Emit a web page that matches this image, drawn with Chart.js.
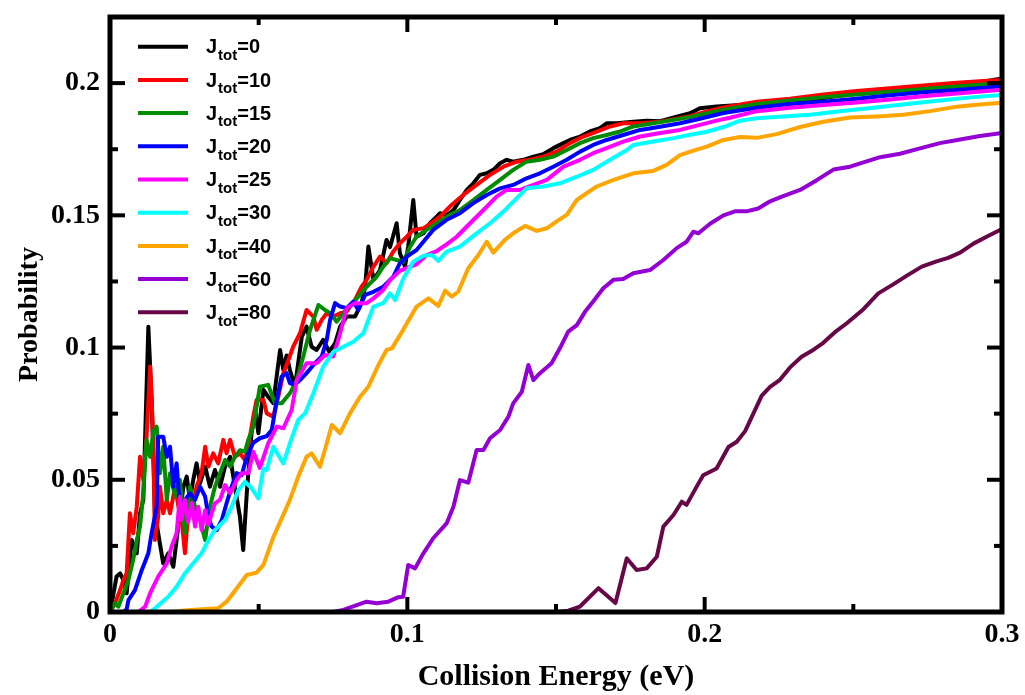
<!DOCTYPE html>
<html><head><meta charset="utf-8">
<script src="https://cdn.jsdelivr.net/npm/chart.js@4"></script>
<style>html,body{margin:0;padding:0;background:#fff;} canvas{display:block;}</style>
</head><body>
<canvas id="c" width="1025" height="695"></canvas>
<script>
// ---- data ----
const seriesLabels = ['0','10','15','20','25','30','40','60','80'];
const seriesColors = ['#000000','#ff0000','#008b00','#0000ff','#ff00ff','#00ffff','#ffa500','#9400d3','#670748'];
const xTickValues = [0,0.1,0.2,0.3];
const xMinorValues = [0.05,0.15,0.25];
const yTickValues = [0,0.05,0.1,0.15,0.2];
const yMinorValues = [0.025,0.075,0.125,0.175];
const xTitle = 'Collision Energy (eV)';
const yTitle = 'Probability';

const j0 = [[0,0],[0.0006,0.0033],[0.0022,0.0134],[0.0034,0.0146],[0.0045,0.0121],[0.0056,0.0071],[0.0073,0.0272],[0.009,0.0222],[0.0101,0.0373],[0.0112,0.0424],[0.0129,0.1079],[0.014,0.0802],[0.0151,0.0373],[0.0162,0.0298],[0.0179,0.0184],[0.0196,0.0222],[0.0213,0.0171],[0.0224,0.0272],[0.0235,0.0373],[0.0247,0.0474],[0.0258,0.0512],[0.0269,0.0424],[0.028,0.05],[0.0291,0.0562],[0.0303,0.0487],[0.032,0.055],[0.0336,0.0474],[0.0353,0.0537],[0.037,0.0474],[0.0387,0.055],[0.0404,0.0587],[0.042,0.0474],[0.0437,0.036],[0.0448,0.0234],[0.046,0.0449],[0.0476,0.0676],[0.0488,0.0764],[0.0499,0.0676],[0.0516,0.084],[0.0532,0.0814],[0.0549,0.079],[0.0572,0.0991],[0.0583,0.0915],[0.0594,0.097],[0.0605,0.0915],[0.0622,0.0852],[0.0645,0.1041],[0.0661,0.1079],[0.0678,0.1003],[0.0695,0.0991],[0.0717,0.1029],[0.0737,0.0985],[0.0757,0.1016],[0.0774,0.1079],[0.0796,0.1117],[0.0824,0.1117],[0.0846,0.1168],[0.0858,0.123],[0.0869,0.1382],[0.0886,0.1256],[0.0908,0.1293],[0.093,0.1407],[0.0942,0.138],[0.0964,0.147],[0.0975,0.1357],[0.0992,0.1306],[0.1003,0.1382],[0.102,0.1558],[0.1031,0.1419],[0.1054,0.1432],[0.1076,0.147],[0.1099,0.1495],[0.111,0.1508],[0.1132,0.15],[0.1155,0.152],[0.1177,0.1558],[0.12,0.1596],[0.1222,0.1621],[0.1244,0.1653],[0.1267,0.1659],[0.1289,0.1672],[0.1312,0.1697],[0.1334,0.171],[0.1356,0.1703],[0.139,0.171],[0.1424,0.1722],[0.1457,0.1731],[0.1491,0.1754],[0.1525,0.1773],[0.1547,0.1785],[0.1581,0.1798],[0.1614,0.1817],[0.1648,0.183],[0.167,0.1848],[0.1704,0.1848],[0.176,0.1854],[0.1805,0.1858],[0.185,0.1856],[0.1906,0.1873],[0.1951,0.1886],[0.1984,0.1905],[0.204,0.1912],[0.2119,0.1917],[0.2197,0.1921],[0.2264,0.1927],[0.2343,0.1934],[0.2422,0.1947],[0.2511,0.1961],[0.2623,0.1974],[0.2735,0.1983],[0.2848,0.1994],[0.2937,0.2005],[0.3,0.2018]];

const j10 = [[0,0],[0.0017,0.0033],[0.0034,0.0083],[0.0045,0.0121],[0.0056,0.0146],[0.0067,0.0373],[0.0078,0.0298],[0.009,0.0398],[0.0101,0.0587],[0.0112,0.0499],[0.0123,0.0663],[0.0135,0.0928],[0.0146,0.0651],[0.0151,0.0272],[0.0162,0.036],[0.0168,0.0474],[0.0179,0.0373],[0.0191,0.0424],[0.0202,0.0373],[0.0219,0.0474],[0.023,0.0398],[0.0241,0.0348],[0.0252,0.0222],[0.0263,0.0373],[0.028,0.0411],[0.0291,0.0474],[0.0308,0.0525],[0.032,0.0625],[0.0331,0.055],[0.0347,0.06],[0.0364,0.0562],[0.0381,0.0651],[0.0392,0.06],[0.0404,0.0651],[0.042,0.0587],[0.0437,0.06],[0.0454,0.0575],[0.0465,0.0625],[0.0482,0.0739],[0.0493,0.0802],[0.0516,0.0802],[0.0527,0.0751],[0.0549,0.0739],[0.0566,0.0814],[0.0583,0.0903],[0.06,0.0953],[0.0616,0.1003],[0.0639,0.1054],[0.0661,0.1142],[0.0684,0.1117],[0.0695,0.1067],[0.0712,0.1104],[0.0729,0.113],[0.0751,0.1117],[0.0774,0.113],[0.0796,0.1136],[0.0824,0.118],[0.0846,0.123],[0.0863,0.1256],[0.0886,0.1306],[0.0908,0.1344],[0.093,0.1319],[0.0953,0.1363],[0.0975,0.1394],[0.0998,0.1419],[0.102,0.1445],[0.1054,0.1451],[0.1087,0.1476],[0.111,0.1495],[0.1143,0.1533],[0.1188,0.1577],[0.1233,0.1615],[0.1278,0.1653],[0.1323,0.1684],[0.1368,0.1703],[0.1413,0.171],[0.1457,0.1722],[0.1502,0.1741],[0.1547,0.1773],[0.1592,0.1798],[0.1637,0.1817],[0.1682,0.1836],[0.1726,0.1848],[0.1783,0.1848],[0.185,0.1854],[0.1917,0.1867],[0.1951,0.1875],[0.2007,0.1893],[0.2063,0.1908],[0.2175,0.193],[0.2287,0.1941],[0.2399,0.1957],[0.2511,0.197],[0.2623,0.1981],[0.2735,0.1991],[0.2848,0.2001],[0.2937,0.2008],[0.3,0.2012]];

const j15 = [[0,0],[0.0017,0.0033],[0.0028,0.002],[0.0045,0.0071],[0.0062,0.0121],[0.0078,0.0197],[0.009,0.0272],[0.0101,0.0323],[0.0112,0.0449],[0.0123,0.0651],[0.0135,0.0587],[0.0146,0.0682],[0.0157,0.0701],[0.0168,0.0525],[0.0179,0.0625],[0.0191,0.0424],[0.0202,0.0525],[0.0219,0.0436],[0.0235,0.0499],[0.0252,0.0298],[0.0269,0.0474],[0.0286,0.0398],[0.0303,0.0348],[0.032,0.0272],[0.0336,0.0398],[0.0353,0.0474],[0.037,0.0525],[0.0387,0.0575],[0.0404,0.055],[0.042,0.0587],[0.0437,0.0612],[0.0454,0.0606],[0.0465,0.0651],[0.0482,0.0701],[0.0504,0.0852],[0.0532,0.0859],[0.0555,0.0789],[0.0577,0.0789],[0.0605,0.0827],[0.0628,0.0877],[0.065,0.0966],[0.0673,0.1067],[0.0701,0.1161],[0.0723,0.1142],[0.074,0.113],[0.0762,0.1098],[0.0785,0.113],[0.0807,0.1155],[0.083,0.1186],[0.0863,0.123],[0.0897,0.1268],[0.0919,0.1306],[0.0942,0.1338],[0.0964,0.1331],[0.0986,0.1325],[0.1009,0.138],[0.1031,0.142],[0.1065,0.1445],[0.1099,0.147],[0.1132,0.1495],[0.1177,0.152],[0.1222,0.1558],[0.1267,0.1596],[0.1312,0.1634],[0.1356,0.1672],[0.1401,0.1703],[0.1446,0.171],[0.1491,0.1722],[0.1536,0.1747],[0.1581,0.1773],[0.1625,0.1792],[0.167,0.1804],[0.1715,0.1817],[0.176,0.1836],[0.1827,0.1848],[0.1895,0.1861],[0.1951,0.1872],[0.2063,0.1899],[0.2175,0.1921],[0.2287,0.1934],[0.2399,0.1947],[0.2511,0.1957],[0.2623,0.1967],[0.2735,0.1978],[0.2848,0.1987],[0.2937,0.1995],[0.3,0.2]];

const j20 = [[0,0],[0.0045,0],[0.0056,0.001],[0.0062,0.0045],[0.0084,0.0083],[0.0107,0.0159],[0.0129,0.0222],[0.014,0.0298],[0.0157,0.0398],[0.0162,0.0663],[0.0179,0.0663],[0.0191,0.0587],[0.0202,0.0625],[0.0213,0.0474],[0.0224,0.0562],[0.0235,0.0398],[0.0252,0.0424],[0.0269,0.0449],[0.0286,0.0424],[0.0303,0.0474],[0.032,0.0436],[0.0331,0.036],[0.0342,0.0323],[0.0359,0.031],[0.0376,0.0348],[0.0392,0.0411],[0.0409,0.0474],[0.0426,0.0525],[0.0443,0.0518],[0.046,0.0587],[0.0482,0.064],[0.0504,0.0657],[0.0527,0.0665],[0.0544,0.0688],[0.0561,0.0802],[0.0577,0.089],[0.0594,0.0903],[0.0605,0.0865],[0.0622,0.086],[0.0639,0.0877],[0.0661,0.0903],[0.0689,0.0941],[0.0712,0.0966],[0.0729,0.1029],[0.074,0.1104],[0.0757,0.1168],[0.0774,0.1155],[0.0796,0.1149],[0.0818,0.1174],[0.0835,0.1142],[0.0858,0.1199],[0.0886,0.1211],[0.0919,0.123],[0.0953,0.1268],[0.0975,0.1319],[0.0998,0.1344],[0.1031,0.1369],[0.1054,0.14],[0.1087,0.1445],[0.1132,0.1483],[0.1177,0.1508],[0.1222,0.1546],[0.1267,0.1577],[0.1312,0.1602],[0.1356,0.1615],[0.1401,0.164],[0.1446,0.1659],[0.1491,0.1684],[0.1536,0.171],[0.1581,0.1741],[0.1625,0.1766],[0.167,0.1785],[0.1715,0.18],[0.1783,0.1823],[0.185,0.1835],[0.1917,0.1848],[0.1984,0.1865],[0.2063,0.1887],[0.2175,0.1907],[0.2287,0.1921],[0.2399,0.193],[0.2511,0.1941],[0.2623,0.1954],[0.2735,0.1965],[0.2848,0.1974],[0.3,0.1988]];

const j25 = [[0,0],[0.0095,0],[0.0118,0.002],[0.0135,0.0071],[0.0162,0.0134],[0.0191,0.0184],[0.0207,0.0247],[0.0224,0.0298],[0.0235,0.0436],[0.0241,0.035],[0.0252,0.0424],[0.0263,0.034],[0.0275,0.0411],[0.0286,0.0323],[0.0297,0.0398],[0.0308,0.031],[0.032,0.0385],[0.0331,0.033],[0.0342,0.0373],[0.0353,0.0411],[0.037,0.0424],[0.0387,0.048],[0.0404,0.0449],[0.0426,0.0499],[0.0443,0.0525],[0.0465,0.0525],[0.0482,0.0606],[0.0504,0.0545],[0.0532,0.0638],[0.0561,0.0701],[0.0583,0.0695],[0.0611,0.0764],[0.0628,0.0877],[0.0661,0.0941],[0.0695,0.0941],[0.0723,0.0972],[0.0751,0.0966],[0.0774,0.1054],[0.0796,0.1149],[0.0824,0.1168],[0.0863,0.1168],[0.0886,0.1186],[0.0919,0.1218],[0.0942,0.1256],[0.0975,0.129],[0.1009,0.1306],[0.1031,0.1315],[0.1065,0.135],[0.1099,0.1365],[0.1132,0.139],[0.1166,0.1419],[0.1211,0.147],[0.1256,0.152],[0.13,0.1571],[0.1334,0.1596],[0.1379,0.1596],[0.1424,0.1615],[0.1469,0.1634],[0.1525,0.1684],[0.1581,0.171],[0.1625,0.1735],[0.167,0.1754],[0.1726,0.1779],[0.1783,0.1798],[0.185,0.1811],[0.1917,0.1823],[0.1984,0.1842],[0.204,0.1858],[0.2085,0.1869],[0.2175,0.1894],[0.2287,0.1907],[0.2399,0.1917],[0.2511,0.1927],[0.2623,0.1938],[0.2735,0.195],[0.2848,0.1961],[0.3,0.1975]];

const j30 = [[0,0],[0.0135,0],[0.0151,0.0014],[0.0196,0.0058],[0.0224,0.0096],[0.0252,0.0146],[0.0275,0.0178],[0.0308,0.0222],[0.0331,0.0272],[0.0353,0.031],[0.0387,0.0348],[0.0409,0.0398],[0.0432,0.0461],[0.0454,0.0493],[0.0476,0.0468],[0.0499,0.043],[0.0516,0.0543],[0.0527,0.0537],[0.0549,0.0625],[0.0583,0.0562],[0.0605,0.0638],[0.0633,0.0726],[0.0656,0.0751],[0.0684,0.0827],[0.0717,0.0928],[0.0751,0.0984],[0.0785,0.1003],[0.0818,0.1022],[0.0852,0.1054],[0.0886,0.1155],[0.0919,0.1168],[0.0942,0.1205],[0.0959,0.118],[0.0986,0.126],[0.102,0.1325],[0.1054,0.1347],[0.1082,0.135],[0.1104,0.1328],[0.1132,0.1363],[0.1177,0.1382],[0.1233,0.1432],[0.1278,0.147],[0.1323,0.1514],[0.1368,0.1565],[0.1401,0.1602],[0.1457,0.1609],[0.1513,0.1621],[0.157,0.1646],[0.1625,0.1672],[0.1682,0.171],[0.1738,0.1747],[0.176,0.1766],[0.1827,0.1779],[0.1895,0.1792],[0.1951,0.1805],[0.2007,0.1816],[0.2063,0.1834],[0.2119,0.1858],[0.2175,0.1867],[0.2287,0.1876],[0.2354,0.188],[0.2455,0.1894],[0.2567,0.1907],[0.268,0.1921],[0.2791,0.1934],[0.2904,0.1947],[0.3,0.1955]];

const j40 = [[0,0],[0.02,0],[0.027,0.0008],[0.0364,0.0014],[0.0392,0.0039],[0.046,0.014],[0.0493,0.0149],[0.0516,0.0178],[0.0549,0.0282],[0.0605,0.0424],[0.0633,0.0512],[0.0661,0.0587],[0.0678,0.06],[0.0706,0.0549],[0.0729,0.0638],[0.0746,0.0707],[0.0774,0.0676],[0.0807,0.0751],[0.0841,0.0814],[0.0869,0.0852],[0.0903,0.0935],[0.093,0.0991],[0.0948,0.0997],[0.0986,0.1067],[0.1031,0.1155],[0.1071,0.1186],[0.1104,0.1157],[0.1127,0.1215],[0.1149,0.1193],[0.1171,0.1211],[0.1205,0.13],[0.1239,0.135],[0.1267,0.14],[0.1289,0.1359],[0.1328,0.1407],[0.1356,0.1432],[0.1396,0.146],[0.1435,0.1441],[0.1469,0.1451],[0.1502,0.1477],[0.1536,0.1502],[0.157,0.1558],[0.1603,0.1584],[0.1637,0.1609],[0.1693,0.1634],[0.176,0.1659],[0.1827,0.1668],[0.1872,0.1691],[0.1917,0.1728],[0.1962,0.1745],[0.2007,0.176],[0.2063,0.1785],[0.2119,0.1796],[0.2175,0.1793],[0.2242,0.1807],[0.2321,0.1834],[0.2399,0.1854],[0.2489,0.187],[0.2579,0.1874],[0.2668,0.188],[0.2758,0.1894],[0.2848,0.1911],[0.2915,0.1918],[0.3,0.1926]];

const j60 = [[0,0],[0.075,0],[0.0785,0.0008],[0.0863,0.0039],[0.0897,0.0033],[0.0936,0.0039],[0.097,0.0056],[0.0986,0.0058],[0.1003,0.0178],[0.1026,0.0165],[0.1054,0.0222],[0.1087,0.0279],[0.1132,0.0335],[0.1155,0.0398],[0.1177,0.0499],[0.1205,0.0489],[0.1233,0.0613],[0.1256,0.0613],[0.1278,0.0657],[0.1312,0.0688],[0.134,0.0739],[0.1356,0.0789],[0.1385,0.0833],[0.1407,0.0934],[0.1424,0.0877],[0.1446,0.0903],[0.1485,0.0941],[0.1513,0.0997],[0.1541,0.106],[0.157,0.1085],[0.1598,0.1136],[0.1625,0.1174],[0.1659,0.1224],[0.1693,0.1256],[0.1726,0.1259],[0.176,0.1281],[0.1816,0.1293],[0.1861,0.1331],[0.1906,0.1376],[0.1939,0.14],[0.1962,0.1438],[0.1979,0.1432],[0.2018,0.1468],[0.2063,0.15],[0.2102,0.1515],[0.2141,0.1515],[0.218,0.1526],[0.222,0.1553],[0.2264,0.1573],[0.2321,0.1596],[0.2377,0.1633],[0.2433,0.1673],[0.2489,0.1684],[0.2534,0.17],[0.259,0.172],[0.2657,0.1733],[0.2724,0.1753],[0.2791,0.1773],[0.2859,0.1787],[0.2926,0.18],[0.3,0.1811]];

const j80 = [[0,0],[0.15,0],[0.1541,0.0005],[0.158,0.002],[0.1643,0.009],[0.17,0.0034],[0.1738,0.0203],[0.1771,0.0159],[0.1805,0.0165],[0.1839,0.0209],[0.1861,0.0323],[0.1895,0.0367],[0.1923,0.0417],[0.1939,0.0405],[0.1973,0.0474],[0.1995,0.0517],[0.204,0.0543],[0.208,0.0624],[0.2108,0.0644],[0.2136,0.0684],[0.2164,0.0751],[0.2192,0.0818],[0.222,0.0851],[0.2253,0.0878],[0.2287,0.0925],[0.2326,0.0965],[0.2365,0.0991],[0.2399,0.1018],[0.2438,0.1058],[0.2478,0.1092],[0.2534,0.1145],[0.2584,0.1205],[0.2634,0.1239],[0.268,0.1272],[0.273,0.1306],[0.278,0.1326],[0.2819,0.1339],[0.2859,0.1359],[0.2904,0.1393],[0.2948,0.1419],[0.3,0.1448]];

const seriesData = [j0,j10,j15,j20,j25,j30,j40,j60,j80];

// ---- plugins ----
const frameTicks = {
  id: 'frameTicks',
  afterDatasetsDraw(chart) {
    const {ctx, chartArea: a, scales: {x, y}} = chart;
    ctx.save();
    ctx.strokeStyle = '#000';
    ctx.lineCap = 'butt';
    const seg = (x1, y1, x2, y2) => { ctx.beginPath(); ctx.moveTo(x1, y1); ctx.lineTo(x2, y2); ctx.stroke(); };
    ctx.lineWidth = 4;
    const MAJ = 15, MIN = 8;
    xTickValues.forEach(v => { const p = x.getPixelForValue(v); seg(p, a.bottom, p, a.bottom - MAJ); seg(p, a.top, p, a.top + MAJ); });
    xMinorValues.forEach(v => { const p = x.getPixelForValue(v); seg(p, a.bottom, p, a.bottom - MIN); seg(p, a.top, p, a.top + MIN); });
    yTickValues.forEach(v => { const p = y.getPixelForValue(v); seg(a.left, p, a.left + MAJ, p); seg(a.right, p, a.right - MAJ, p); });
    yMinorValues.forEach(v => { const p = y.getPixelForValue(v); seg(a.left, p, a.left + MIN, p); seg(a.right, p, a.right - MIN, p); });
    ctx.lineWidth = 5;
    ctx.lineJoin = 'miter';
    ctx.strokeRect(a.left, a.top, a.right - a.left, a.bottom - a.top);
    ctx.restore();
  }
};

const subLegend = {
  id: 'subLegend',
  afterDraw(chart) {
    const ctx = chart.ctx;
    ctx.save();
    const x0 = 138, x1 = 188, y0 = 46.7, dy = 33.2, tx = 206;
    const big = 'bold 20px "Liberation Sans", Arial, sans-serif';
    const small = 'bold 15px "Liberation Sans", Arial, sans-serif';
    chart.data.datasets.forEach((ds, i) => {
      const yy = y0 + dy * i;
      ctx.strokeStyle = ds.borderColor;
      ctx.lineWidth = 4;
      ctx.lineCap = 'butt';
      ctx.beginPath(); ctx.moveTo(x0, yy); ctx.lineTo(x1, yy); ctx.stroke();
      ctx.fillStyle = '#000';
      ctx.textBaseline = 'alphabetic';
      ctx.textAlign = 'left';
      ctx.font = big;
      ctx.fillText('J', tx, yy + 6.7);
      let cx = tx + ctx.measureText('J').width + 1;
      ctx.font = small;
      ctx.fillText('tot', cx, yy + 13.3);
      cx += ctx.measureText('tot').width;
      ctx.font = big;
      ctx.fillText('=' + seriesLabels[i], cx, yy + 6.7);
    });
    ctx.restore();
  }
};

const fmt = v => String(+Number(v).toFixed(3));
const serif = 'Liberation Serif, "Times New Roman", serif';

new Chart(document.getElementById('c'), {
  type: 'scatter',
  data: {
    datasets: seriesData.map((d, i) => ({
      label: 'Jtot=' + seriesLabels[i],
      data: d.map(p => ({x: p[0], y: p[1]})),
      borderColor: seriesColors[i],
      backgroundColor: seriesColors[i],
      borderWidth: 4,
      showLine: true,
      pointRadius: 0,
      pointHoverRadius: 0,
      tension: 0,
      borderJoinStyle: 'round',
      borderCapStyle: 'round',
      order: seriesData.length - i
    }))
  },
  options: {
    responsive: false,
    animation: false,
    events: [],
    layout: {padding: {left: 0, right: 23, top: 17, bottom: 0}},
    plugins: {legend: {display: false}, tooltip: {enabled: false}},
    scales: {
      x: {
        type: 'linear', min: 0, max: 0.3,
        afterBuildTicks: s => { s.ticks = xTickValues.map(v => ({value: v})); },
        afterFit: s => { s.height = 83; s.paddingLeft = 0; s.paddingRight = 0; },
        grid: {display: false, drawTicks: false},
        border: {display: false},
        ticks: {color: '#000', padding: 6, maxRotation: 0, autoSkip: false, font: {family: serif, weight: 'bold', size: 28}, callback: v => fmt(v)},
        title: {display: true, text: xTitle, color: '#000', font: {family: serif, weight: 'bold', size: 30}, padding: {top: 0, bottom: 0}}
      },
      y: {
        type: 'linear', min: 0, max: 0.225,
        afterBuildTicks: s => { s.ticks = yTickValues.map(v => ({value: v})); },
        afterFit: s => { s.width = 110; s.paddingTop = 0; s.paddingBottom = 0; },
        grid: {display: false, drawTicks: false},
        border: {display: false},
        ticks: {color: '#000', padding: 10, autoSkip: false, font: {family: serif, weight: 'bold', size: 28}, callback: v => fmt(v)},
        title: {display: true, text: yTitle, color: '#000', font: {family: serif, weight: 'bold', size: 28}, padding: {top: 13, bottom: 0}}
      }
    }
  },
  plugins: [frameTicks, subLegend]
});
</script>
</body></html>
